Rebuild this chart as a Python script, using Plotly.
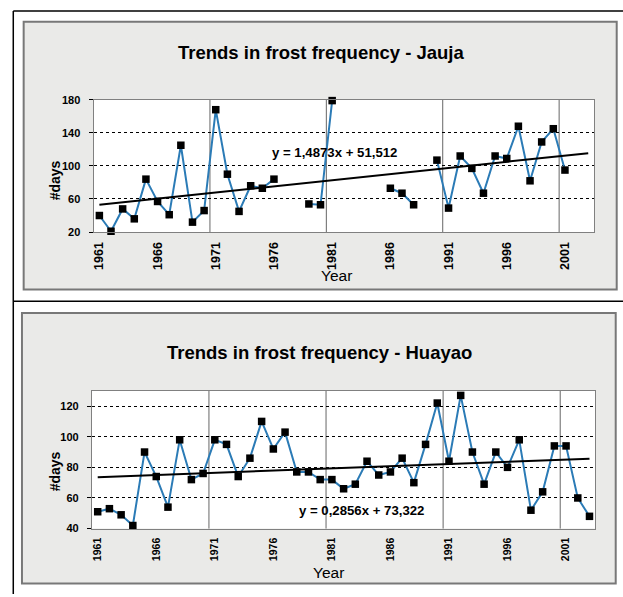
import plotly.graph_objects as go

W, H = 623, 597

years = [1961, 1962, 1963, 1964, 1965, 1966, 1967, 1968, 1969, 1970,
         1971, 1972, 1973, 1974, 1975, 1976, 1977, 1978, 1979, 1980,
         1981, 1982, 1983, 1984, 1985, 1986, 1987, 1988, 1989, 1990,
         1991, 1992, 1993, 1994, 1995, 1996, 1997, 1998, 1999, 2000,
         2001, 2002, 2003]

jauja = [40, 21, 48, 36, 84, 57, 41, 125, 32, 46,
         168, 90, 45, 76, 73, 84, None, None, 54, 53,
         179, None, None, None, None, 73, 67, 53, None, 107,
         49, 112, 97, 67, 112, 109, 148, 82, 129, 145,
         95, None, None]

huayao = [51, 53, 49, 42, 90, 74, 54, 98, 72, 76,
          98, 95, 74, 86, 110, 92, 103, 77, 77, 72,
          72, 66, 69, 84, 75, 77, 86, 70, 95, 122,
          84, 127, 90, 69, 90, 80, 98, 52, 64, 94,
          94, 60, 48]

jauja_slope, jauja_intercept = 1.4873, 51.512
huayao_slope, huayao_intercept = 0.2856, 73.322

x_ticks = [1961, 1966, 1971, 1976, 1981, 1986, 1991, 1996, 2001]
jauja_yticks = [20, 60, 100, 140, 180]
huayao_yticks = [40, 60, 80, 100, 120]
grid_years = [1971, 1981, 1991, 2001]

title_top = "Trends in frost frequency - Jauja"
title_bot = "Trends in frost frequency - Huayao"
eq_top = "y = 1,4873x + 51,512"
eq_bot = "y = 0,2856x + 73,322"

FONT = "Liberation Sans, Arial, sans-serif"
LINE_COLOR = "#2b7bb6"


def px(x):
    return x / W


def py(y):
    return 1 - y / H


fig = go.Figure()


def add_series(vals, slope, intercept, xa, ya):
    fig.add_trace(go.Scatter(x=years, y=vals, mode="lines", connectgaps=False,
                             line=dict(color=LINE_COLOR, width=2),
                             xaxis=xa, yaxis=ya, showlegend=False, hoverinfo="skip"))
    n = len(years)
    tx = [years[0], years[-1]]
    ty = [slope * 1 + intercept, slope * n + intercept]
    fig.add_trace(go.Scatter(x=tx, y=ty, mode="lines",
                             line=dict(color="black", width=2),
                             xaxis=xa, yaxis=ya, showlegend=False, hoverinfo="skip"))
    fig.add_trace(go.Scatter(x=years, y=vals, mode="markers",
                             marker=dict(symbol="square", size=7.5, color="black"),
                             cliponaxis=False,
                             xaxis=xa, yaxis=ya, showlegend=False))


add_series(jauja, jauja_slope, jauja_intercept, "x", "y")
add_series(huayao, huayao_slope, huayao_intercept, "x2", "y2")


def xcommon(fs):
    return dict(range=[years[0] - 0.5, years[-1] + 0.5], tickmode="array", tickvals=x_ticks,
                ticktext=[str(v) for v in x_ticks], tickangle=-90, showgrid=False,
                zeroline=False, showline=True, linecolor="#808080", linewidth=1, mirror=True,
                ticks="", ticklabelstandoff=4,
                tickfont=dict(family=FONT, size=fs, color="black", weight="bold"))


ycommon = dict(showgrid=True, gridcolor="black", griddash="3px,3px", gridwidth=1,
               zeroline=False, showline=True, linecolor="#808080", linewidth=1, mirror=True,
               ticks="outside", ticklen=4, tickcolor="black", ticklabelstandoff=6,
               tickfont=dict(family=FONT, size=11, color="black", weight="bold"))

fig.update_layout(
    width=W, height=H, margin=dict(l=0, r=0, t=0, b=0),
    paper_bgcolor="white", plot_bgcolor="white",
    xaxis=dict(domain=[px(92.7), px(594)], anchor="y", **xcommon(12.5)),
    yaxis=dict(domain=[py(230.7), py(95.7)], anchor="x", range=[20, 180],
               tickvals=jauja_yticks, **ycommon),
    xaxis2=dict(domain=[px(91), px(595.3)], anchor="y2", **xcommon(10.5)),
    yaxis2=dict(domain=[py(533.3), py(392.7)], anchor="x2", range=[40, 130],
                tickvals=huayao_yticks, **ycommon),
)

shapes = []
# outer table lines
shapes.append(dict(type="line", xref="paper", yref="paper", x0=px(12.3), x1=px(12.3),
                   y0=py(5), y1=py(600), line=dict(color="black", width=1.5)))
shapes.append(dict(type="line", xref="paper", yref="paper", x0=px(12.3), x1=px(625),
                   y0=py(5), y1=py(5), line=dict(color="black", width=1.5)))
shapes.append(dict(type="line", xref="paper", yref="paper", x0=px(12.3), x1=px(625),
                   y0=py(301.3), y1=py(301.3), line=dict(color="black", width=1.5)))
# grey chart areas
for (x0, y0, x1, y1) in [(22.7, 16, 616.7, 289.3), (21, 313.3, 615.7, 589.3)]:
    shapes.append(dict(type="rect", xref="paper", yref="paper", layer="below",
                       x0=px(x0), x1=px(x1), y0=py(y1), y1=py(y0),
                       fillcolor="#eaeae8", line=dict(color="#787878", width=2)))
# white plot areas
for xa, ya in [("x", "y"), ("x2", "y2")]:
    shapes.append(dict(type="rect", xref=xa + " domain", yref=ya + " domain", layer="below",
                       x0=0, x1=1, y0=0, y1=1, fillcolor="white", line=dict(width=0)))
# vertical category separators
for xa, ya in [("x", "y"), ("x2", "y2")]:
    for g in grid_years:
        shapes.append(dict(type="line", xref=xa, yref=ya + " domain", layer="below",
                           x0=g - 0.5, x1=g - 0.5, y0=0, y1=1,
                           line=dict(color="#666666", width=1)))
fig.update_layout(shapes=shapes)


def label(text, x, y, size, bold=True, angle=0):
    return dict(text=text, xref="paper", yref="paper", x=px(x), y=py(y),
                xanchor="center", yanchor="middle", textangle=angle, showarrow=False,
                font=dict(family=FONT, size=size, color="black",
                          weight="bold" if bold else "normal"))


ann = [
    label(title_top, 321, 47, 18.5),
    label(title_bot, 319, 354, 18.5),
    label(eq_top, 334, 149, 13.2),
    label(eq_bot, 361, 515, 13.2),
    label("#days", 55, 178, 14, angle=-90),
    label("#days", 55, 475, 14, angle=-90),
    label("Year", 336, 275, 15.5, bold=False),
    label("Year", 328, 578, 15.5, bold=False),
]
fig.update_layout(annotations=ann)

fig.write_html("out.html", config={"displayModeBar": False},
               post_script="document.body.style.margin='0';document.body.style.overflow='hidden';")
